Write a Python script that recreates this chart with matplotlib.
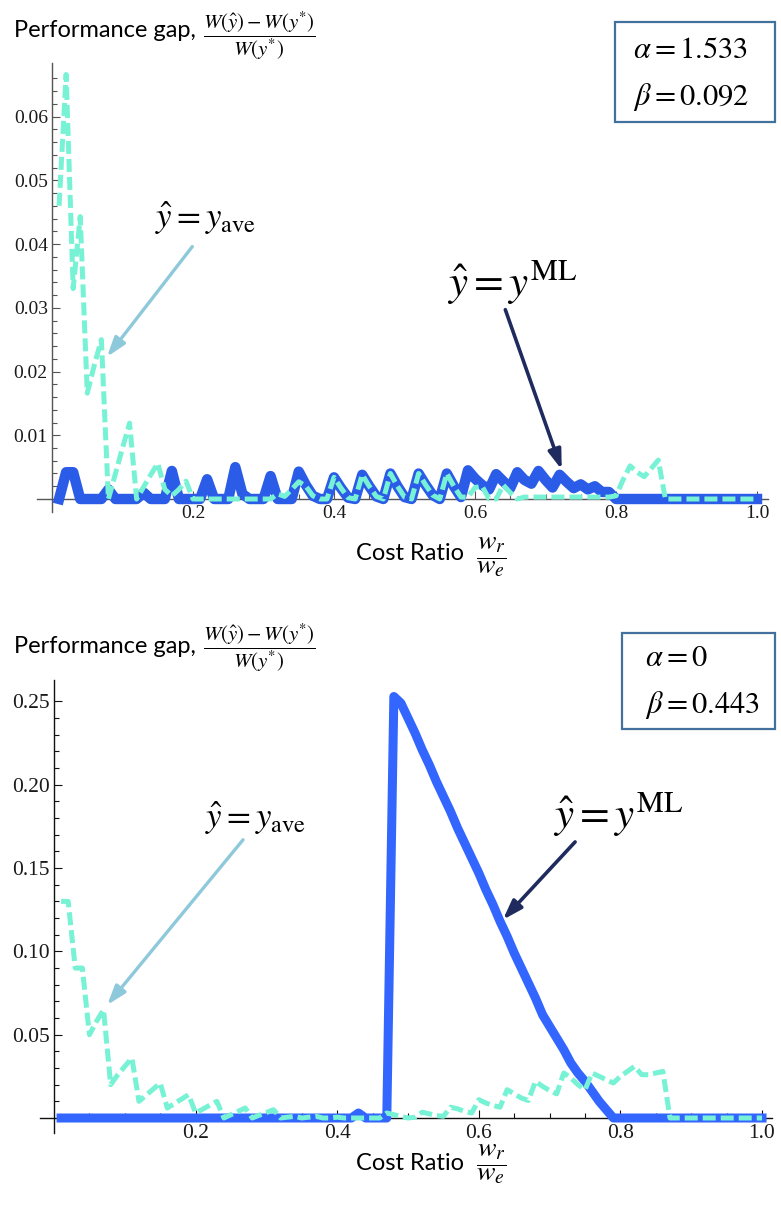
import numpy as np
import matplotlib
matplotlib.use("Agg")
import matplotlib.pyplot as plt
from matplotlib.patches import Rectangle
from matplotlib.ticker import FixedLocator

plt.rcParams["mathtext.fontset"] = "stix"

W, H = 781, 1206

# cost ratio grid w_r / w_e
cost_ratio = np.round(np.arange(1, 101) * 0.01, 2)

# top panel (alpha = 1.533, beta = 0.092)
gap_ml_top = [
    0, 0.0042, 0.0042, 0, 0, 0, 0, 0.0015, 0, 0,
    0, 0, 0.001, 0, 0, 0, 0.0044, 0, 0, 0,
    0, 0.0031, 0, 0, 0, 0.005, 0.0008, 0, 0, 0,
    0.0036, 0, 0, 0, 0.0043, 0.0022, 0.0005, 0, 0, 0.0034,
    0.0017, 0.0002, 0, 0.0038, 0.002, 0.0004, 0, 0.004, 0.002, 0.0003,
    0, 0.004, 0.0022, 0.0006, 0, 0.004, 0.002, 0.0003, 0.0045, 0.0032,
    0.0022, 0.0015, 0.0039, 0.0028, 0.0017, 0.0042, 0.003, 0.0024, 0.0044, 0.003,
    0.0018, 0.0038, 0.0027, 0.0017, 0.0023, 0.0015, 0.002, 0.0011, 0.0011, 0,
    0, 0, 0, 0, 0, 0, 0, 0, 0, 0,
    0, 0, 0, 0, 0, 0, 0, 0, 0, 0,
]
gap_ave_top = [
    0.046, 0.0666, 0.033, 0.0443, 0.0166, 0.021, 0.025, 0, 0.004, 0.008,
    0.0119, 0, 0.0019, 0.0038, 0.0056, 0.0015, 0.0005, 0.0015, 0.0028, 0,
    0, 0, 0, 0, 0, 0, 0, 0, 0, 0,
    0, 0.0008, 0.0004, 0.0015, 0.0027, 0.002, 0.0005, 0, 0, 0.0034,
    0.0017, 0.0002, 0, 0.0038, 0.002, 0.0004, 0, 0.004, 0.002, 0.0003,
    0, 0.004, 0.0022, 0.0006, 0, 0.004, 0.002, 0.0003, 0.0003, 0.0018,
    0.002, 0, 0, 0.0022, 0.001, 0, 0.0003, 0.0003, 0.0003, 0.0003,
    0.0003, 0.0003, 0.0003, 0.0003, 0.0003, 0.0003, 0.0003, 0.0003, 0.0003, 0.0005,
    0.003, 0.0052, 0.0042, 0.0035, 0.0048, 0.0061, 0, 0, 0, 0,
    0, 0, 0, 0, 0, 0, 0, 0, 0, 0,
]

# bottom panel (alpha = 0, beta = 0.443)
gap_ml_bottom = [
    0, 0, 0, 0, 0, 0, 0, 0, 0, 0,
    0, 0, 0, 0, 0, 0, 0, 0, 0, 0,
    0, 0, 0, 0, 0, 0, 0, 0, 0, 0,
    0, 0, 0, 0, 0, 0, 0, 0, 0, 0,
    0, 0, 0.003, 0, 0, 0, 0, 0.253, 0.249, 0.240,
    0.231, 0.221, 0.212, 0.202, 0.193, 0.184, 0.174, 0.165, 0.156, 0.147,
    0.137, 0.128, 0.118, 0.109, 0.099, 0.090, 0.081, 0.072, 0.062, 0.055,
    0.048, 0.041, 0.033, 0.027, 0.022, 0.016, 0.010, 0.005, 0, 0,
    0, 0, 0, 0, 0, 0, 0, 0, 0, 0,
    0, 0, 0, 0, 0, 0, 0, 0, 0, 0,
]
gap_ave_bottom = [
    0.13, 0.13, 0.09, 0.09, 0.05, 0.058, 0.065, 0.02, 0.026, 0.031,
    0.036, 0.01, 0.0137, 0.0173, 0.021, 0.006, 0.0087, 0.0113, 0.014, 0.003,
    0.0053, 0.0077, 0.01, 0, 0.002, 0.004, 0.006, 0, 0.0017, 0.0033,
    0.005, 0, 0.0005, 0.001, 0, 0.0005, 0.001, 0, 0, 0.0005,
    0, 0, 0, 0, 0, 0, 0.003, 0.002, 0.001, 0,
    0.0005, 0.0035, 0.0025, 0.0015, 0.001, 0.0065, 0.0055, 0.004, 0.003, 0.011,
    0.009, 0.0075, 0.0065, 0.017, 0.0145, 0.012, 0.0105, 0.022, 0.019, 0.0165,
    0.0145, 0.027, 0.024, 0.020, 0.017, 0.027, 0.025, 0.023, 0.021, 0.025,
    0.028, 0.031, 0.026, 0.026, 0.027, 0.028, 0, 0, 0, 0,
    0, 0, 0, 0, 0, 0, 0, 0, 0, 0,
]

x_ticks = [0.2, 0.4, 0.6, 0.8, 1.0]
x_labels = ["0.2", "0.4", "0.6", "0.8", "1.0"]
top_yticks = [0.01, 0.02, 0.03, 0.04, 0.05, 0.06]
top_ylabels = ["0.01", "0.02", "0.03", "0.04", "0.05", "0.06"]
bottom_yticks = [0.05, 0.10, 0.15, 0.20, 0.25]
bottom_ylabels = ["0.05", "0.10", "0.15", "0.20", "0.25"]

BLUE_TOP = "#2B5CE8"
BLUE_BOT = "#3366FF"
AQUA = "#78F2D4"


def rect(left, top, right, bottom):
    return [left / W, 1 - bottom / H, (right - left) / W, (bottom - top) / H]


def fx(px):
    return px / W


def fy(py):
    return 1 - py / H


fig = plt.figure(figsize=(W / 100, H / 100), dpi=100)
ax1 = fig.add_axes(rect(37, 63, 768, 512))
ax2 = fig.add_axes(rect(40, 680, 772, 1133))


def style(ax, xlim, ylim, yticks, ylabels, yminor, fsize, color):
    ax.set_xlim(*xlim)
    ax.set_ylim(*ylim)
    ax.patch.set_alpha(0)
    for s in ["top", "right"]:
        ax.spines[s].set_visible(False)
    ax.spines["left"].set_position(("data", 0))
    ax.spines["bottom"].set_position(("data", 0))
    for s in ["left", "bottom"]:
        ax.spines[s].set_color(color)
        ax.spines[s].set_linewidth(1.0)
    ax.set_xticks(x_ticks)
    ax.set_xticklabels(x_labels)
    ax.set_yticks(yticks)
    ax.set_yticklabels(ylabels)
    ax.xaxis.set_minor_locator(FixedLocator(np.arange(0.05, 1.0, 0.05)))
    ax.yaxis.set_minor_locator(FixedLocator(yminor))
    ax.tick_params(which="both", direction="in", color=color, width=0.8)
    ax.tick_params(which="major", length=6)
    ax.tick_params(which="minor", length=3.5)
    ax.tick_params(axis="x", pad=4)
    ax.tick_params(axis="y", pad=3)
    for lab in ax.get_xticklabels() + ax.get_yticklabels():
        lab.set_fontfamily("Liberation Serif")
        lab.set_fontsize(fsize)
        lab.set_color("#1a1a1a")


style(ax1, (-0.0213, 1.0156), (-0.00204, 0.0684), top_yticks, top_ylabels,
      np.arange(0.002, 0.068, 0.002), 14, "#555555")
style(ax2, (-0.0198, 1.0141), (-0.009, 0.2629), bottom_yticks, bottom_ylabels,
      np.arange(0.01, 0.26, 0.01), 15.5, "#111111")

# series
ax1.plot(cost_ratio, gap_ml_top, color=BLUE_TOP, lw=7.5, zorder=3, clip_on=False)
ax1.plot(cost_ratio, gap_ave_top, color=AQUA, lw=3.6, ls=(0, (2.6, 1.0)), zorder=4, clip_on=False)
ax2.plot(cost_ratio, gap_ml_bottom, color=BLUE_BOT, lw=6.5, zorder=3, clip_on=False)
ax2.plot(cost_ratio, gap_ave_bottom, color=AQUA, lw=3.6, ls=(0, (2.6, 1.0)), zorder=4, clip_on=False)

# arrows
light = dict(arrowstyle="-|>,head_length=0.9,head_width=0.3", color="#8EC9DB",
             lw=2.4, mutation_scale=13, shrinkA=0, shrinkB=0)
dark = dict(arrowstyle="-|>,head_length=0.9,head_width=0.3", color="#1F2B5E",
            lw=2.6, mutation_scale=13, shrinkA=0, shrinkB=0)
ax1.annotate("", xy=(0.078, 0.0223), xytext=(0.199, 0.0396), arrowprops=light)
ax1.annotate("", xy=(0.723, 0.0046), xytext=(0.643, 0.0297), arrowprops=dark)
ax2.annotate("", xy=(0.075, 0.0678), xytext=(0.267, 0.167), arrowprops=light)
ax2.annotate("", xy=(0.634, 0.119), xytext=(0.736, 0.1657), arrowprops=dark)

# series labels
fig.text(fx(205), fy(218), r"$\hat{y} = y_{\mathrm{ave}}$", fontsize=25, ha="center", va="center")
fig.text(fx(512), fy(283), r"$\hat{y} = y^{\mathrm{ML}}$", fontsize=31, ha="center", va="center")
fig.text(fx(255), fy(818), r"$\hat{y} = y_{\mathrm{ave}}$", fontsize=25, ha="center", va="center")
fig.text(fx(618), fy(815), r"$\hat{y} = y^{\mathrm{ML}}$", fontsize=31, ha="center", va="center")

# y-axis titles
frac_y = r"$\dfrac{W(\hat{y})-W(y^{*})}{W(y^{*})}$"
for base, mid in [(37, 36), (653, 648)]:
    fig.text(fx(14), fy(base), "Performance gap,", family="Lato", fontsize=17,
             ha="left", va="baseline")
    fig.text(fx(203), fy(mid), frac_y, fontsize=15, ha="left", va="center")

# x-axis titles
frac_x = r"$\dfrac{w_r}{w_e}$"
for base, mid in [(560, 557), (1170, 1164)]:
    fig.text(fx(356), fy(base), "Cost Ratio", family="Lato", fontsize=17,
             ha="left", va="baseline")
    fig.text(fx(476), fy(mid), frac_x, fontsize=20, ha="left", va="center")

# parameter boxes
for (l, t, r, b), a_txt, b_txt, a_base, b_base, tx in [
    ((615, 22, 775, 122), r"$\alpha = 1.533$", r"$\beta = 0.092$", 58, 105, 633),
    ((622, 633, 775, 729), r"$\alpha = 0$", r"$\beta = 0.443$", 666, 713, 645),
]:
    fig.add_artist(Rectangle((fx(l), fy(b)), (r - l) / W, (b - t) / H,
                             transform=fig.transFigure, fill=False,
                             ec="#41719C", lw=1.6))
    fig.text(fx(tx), fy(a_base), a_txt, fontsize=22, ha="left", va="baseline")
    fig.text(fx(tx), fy(b_base), b_txt, fontsize=22, ha="left", va="baseline")

fig.savefig("out.png", dpi=100)
